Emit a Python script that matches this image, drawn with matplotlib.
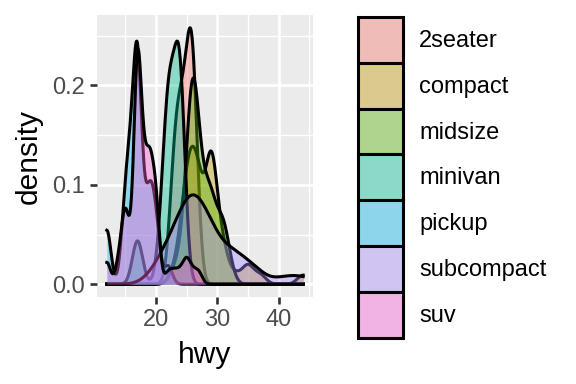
import numpy as np
import matplotlib
matplotlib.use("Agg")
import matplotlib.pyplot as plt
from matplotlib import mlab
from matplotlib.colors import to_rgba
from matplotlib.patches import Patch
from matplotlib.legend_handler import HandlerTuple

plt.rcParams['font.family'] = ['Liberation Sans', 'DejaVu Sans']

# hwy observations per class (mpg data)
hwy_2seater = [26, 23, 26, 25, 24]
hwy_compact = [29, 29, 31, 30, 26, 26, 27,
               26, 25, 28, 27, 25, 25, 25, 25,
               29, 27,
               25, 27, 25, 27,
               27, 29, 31, 31, 26, 26, 27,
               30, 33, 35, 37, 35,
               29, 26, 29, 29, 24,
               44, 29, 26, 29, 29, 29, 29, 23, 24]
hwy_midsize = [24, 25, 23,
               27, 30, 26, 29, 26,
               26, 27, 30, 31, 26, 26, 28,
               31, 32, 27, 26,
               26, 25, 25,
               26, 26, 27, 28, 25,
               29, 27, 31, 31, 26, 26, 28,
               29, 29, 28, 29, 26, 26, 26]
hwy_minivan = [24, 24, 22, 22, 24, 24, 17, 22, 21, 23, 23]
hwy_pickup = [19, 18, 17, 17, 19, 19, 12, 17, 15,
              16, 12, 12, 17, 17, 15, 16, 17, 15, 16,
              17, 17, 16, 16, 17, 15, 17,
              20, 20, 22, 17, 19, 18, 20]
hwy_subcompact = [26, 25, 26, 24, 21, 22, 23, 22, 20,
                  33, 32, 32, 29, 32, 34, 36, 36, 29,
                  26, 29, 28, 27, 24, 24, 24,
                  44, 41, 29, 26, 28, 29,
                  26, 26, 26, 26]
hwy_suv = [20, 15, 20, 17, 17,
           19, 14, 15, 17,
           17, 17, 12, 17, 16, 18, 15,
           17, 17, 18,
           17, 19, 17, 19, 19, 17,
           22, 19, 20, 17, 12, 19, 18, 14,
           15, 18, 18, 15,
           17, 16, 18,
           17, 19, 19, 17,
           17, 17, 20, 18,
           25, 24, 27, 25, 26, 23,
           20, 20, 19, 17, 20, 17,
           15, 18]

classes = ['2seater', 'compact', 'midsize', 'minivan', 'pickup', 'subcompact', 'suv']
groups = [hwy_2seater, hwy_compact, hwy_midsize, hwy_minivan,
          hwy_pickup, hwy_subcompact, hwy_suv]
fills = ['#F8766D', '#C49A00', '#53B400', '#00C094', '#00B6EB', '#A58AFF', '#FB61D7']
ALPHA = 0.4


def nrd0(v):
    # R's default bandwidth (bw.nrd0)
    v = np.asarray(v, float)
    sd = v.std(ddof=1)
    q1, q3 = np.percentile(v, [25, 75])
    return 0.9 * min(sd, (q3 - q1) / 1.34) * len(v) ** -0.2


all_vals = np.concatenate([np.asarray(g, float) for g in groups])
xs = np.linspace(all_vals.min(), all_vals.max(), 512)

fig = plt.figure(figsize=(5.76, 3.84), dpi=100)
ax = fig.add_axes([97 / 576, 1 - 297 / 384, 216 / 576, 282 / 384])
ax.set_facecolor('#EBEBEB')
for s in ax.spines.values():
    s.set_visible(False)

ymax = 0
for i, (vals, col) in enumerate(zip(groups, fills)):
    v = np.asarray(vals, float)
    kde = mlab.GaussianKDE(v, bw_method=nrd0(v) / v.std(ddof=1))
    ys = kde.evaluate(xs)
    ymax = max(ymax, ys.max())
    ax.fill_between(xs, ys, color=col, alpha=ALPHA, lw=0, zorder=2 + 2 * i)
    ax.plot(xs, ys, color='black', lw=2.2, zorder=3 + 2 * i)

xr = all_vals.max() - all_vals.min()
ax.set_xlim(all_vals.min() - 0.05 * xr, all_vals.max() + 0.05 * xr)
ax.set_ylim(-0.05 * ymax, 1.05 * ymax)

ax.set_xticks([20, 30, 40], ['20', '30', '40'])
ax.set_yticks([0, 0.1, 0.2], ['0.0', '0.1', '0.2'])
ax.set_xticks([15, 25, 35, 45], minor=True)
ax.set_yticks([0.05, 0.15, 0.25], minor=True)
ax.set_axisbelow(True)
ax.grid(which='major', color='white', lw=1.9)
ax.grid(which='minor', color='white', lw=0.95)
ax.tick_params(which='major', length=4.95, width=1.9, color='#333333',
               labelcolor='#4D4D4D', labelsize=17, pad=4)
ax.tick_params(which='minor', length=0)

ax.set_xlabel('hwy', fontsize=21.5)
ax.xaxis.set_label_coords(0.5, -(355 - 297) / 282)
ax.xaxis.label.set_verticalalignment('center')
ax.set_ylabel('density', fontsize=21.5)
ax.yaxis.set_label_coords(-(97 - 29) / 216, 0.5)
ax.yaxis.label.set_verticalalignment('center')

handles = [(Patch(facecolor='#EBEBEB', edgecolor='none'),
            Patch(facecolor=to_rgba(c, ALPHA), edgecolor='black', lw=2.2))
           for c in fills]
fs = 17
fpx = fs / 0.72
fig.legend(handles, classes, handler_map={tuple: HandlerTuple(ndivide=1, pad=0)},
           loc='upper left', bbox_to_anchor=(358 / 576, 1 - 17 / 384),
           bbox_transform=fig.transFigure, frameon=False, fontsize=fs,
           handlelength=45 / fpx, handleheight=46 / fpx + 0.66, labelspacing=0,
           handletextpad=16 / fpx, borderpad=0, borderaxespad=0)

fig.savefig('out.png', dpi=100)
